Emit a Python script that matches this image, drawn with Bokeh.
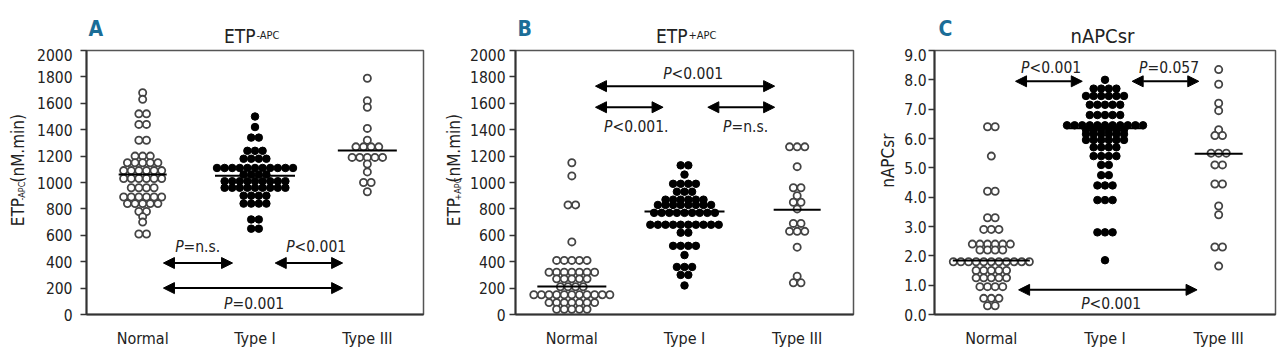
import math
from bokeh.plotting import figure
from bokeh.layouts import row, column
from bokeh.models import Label, Arrow, NormalHead, FixedTicker, Range1d, NumeralTickFormatter
from bokeh.embed import file_html
from bokeh.resources import INLINE

categories = ["Normal", "Type I", "Type III"]

# ---- Panel A: ETP-APC (nM.min) ----
a_normal = [1680, 1630, 1520, 1520, 1440, 1440, 1320, 1320, 1200, 1200, 1200,
            1150, 1150, 1150, 1150, 1150, 1090, 1090, 1090, 1090, 1090, 1090,
            1030, 1030, 1030, 1030, 1030, 1030, 960, 960, 960, 960,
            890, 890, 890, 890, 890, 890, 840, 840, 840, 840, 840,
            780, 780, 740, 700, 610, 610]
a_type1 = [1500, 1420, 1340, 1340, 1240, 1240, 1240, 1180, 1180, 1180, 1180,
           1110, 1110, 1110, 1110, 1110, 1110, 1110, 1110, 1110, 1110, 1110,
           1060, 1060, 1060, 1060,
           1010, 1010, 1010, 1010, 1010, 1010, 1010, 1010, 1010,
           960, 960, 960, 960, 960, 960, 960, 960, 960,
           900, 900, 900, 900, 840, 840, 840, 840, 720, 720, 650, 650]
a_type3 = [1790, 1620, 1570, 1410, 1320, 1270, 1270, 1270, 1270,
           1190, 1190, 1190, 1190, 1190, 1140, 1080, 1000, 1000, 930]
a_median = [1060, 1052, 1242]

# ---- Panel B: ETP+APC (nM.min) ----
b_normal = [1150, 1050, 830, 830, 550, 410, 410, 410, 410, 410,
            320, 320, 320, 320, 320, 320, 320, 270, 270, 270, 270, 270,
            210, 210, 210, 210,
            150, 150, 150, 150, 150, 150, 150, 150, 150, 150, 150,
            90, 90, 90, 90, 90, 90, 90, 40, 40, 40, 40, 40]
b_type1 = [1130, 1130, 1060, 990, 990, 990, 990, 930, 930, 930,
           870, 870, 870, 870, 870, 870, 830, 830, 830, 830, 830, 830, 830, 830,
           770, 770, 770, 770, 770, 770, 770, 770, 770,
           680, 680, 680, 680, 680, 680, 680, 680, 680, 680,
           620, 620, 520, 520, 520, 520, 450, 360, 360, 360, 300, 300, 220]
b_type3 = [1270, 1270, 1270, 1120, 960, 960, 900, 850, 850, 800,
           690, 690, 630, 630, 630, 510, 290, 240, 240]
b_median = [212, 780, 793]

# ---- Panel C: nAPCsr ----
c_normal = [6.4, 6.4, 5.4, 4.2, 4.2, 3.3, 3.3, 2.9, 2.9, 2.9,
            2.4, 2.4, 2.4, 2.4, 2.4, 2.4, 2.2, 2.2, 2.2, 2.2,
            1.8, 1.8, 1.8, 1.8, 1.8, 1.8, 1.8, 1.8, 1.8, 1.8, 1.8,
            1.5, 1.5, 1.5, 1.5, 1.5, 1.25, 1.25, 1.25, 1.25, 1.25,
            0.95, 0.95, 0.95, 0.95, 0.55, 0.55, 0.55, 0.3, 0.3]
c_type1 = [8.0, 7.7, 7.7, 7.7, 7.7, 7.45, 7.45, 7.45, 7.45, 7.45, 7.45,
           7.15, 7.15, 7.15, 7.15, 7.15, 6.8, 6.8, 6.8, 6.8, 6.8,
           6.45, 6.45, 6.45, 6.45, 6.45, 6.45, 6.45, 6.45, 6.45, 6.45, 6.45,
           6.3, 6.3, 6.3, 6.3, 6.3, 6.3, 6.15, 6.15, 6.15, 6.15, 6.15, 6.15,
           5.95, 5.95, 5.95, 5.95, 5.95, 5.95, 5.7, 5.7, 5.7, 5.7,
           5.4, 5.4, 5.4, 5.4, 5.1, 5.1, 4.75, 4.75, 4.4, 4.4, 4.4,
           3.9, 3.9, 3.9, 2.8, 2.8, 2.8, 1.85]
c_type3 = [8.35, 7.85, 7.2, 6.95, 6.3, 6.1, 6.1, 5.5, 5.5, 5.5,
           5.1, 5.1, 4.45, 4.45, 3.7, 3.4, 2.3, 2.3, 1.65]
c_median = [1.84, 6.35, 5.48]

FONT = "DejaVu Sans Condensed"
TXT = "#222222"
LETTER = "#1b6d97"
HEAD_H = 48
MAIN_H = 356 - HEAD_H


def swarm(values, center, step):
    counts, order = {}, []
    for v in values:
        if v not in counts:
            counts[v] = 0
            order.append(v)
        counts[v] += 1
    xs, ys = [], []
    for v in order:
        n = counts[v]
        for i in range(n):
            xs.append(center + (i - (n - 1) / 2) * step)
            ys.append(v)
    return xs, ys


def blank(w, h):
    f = figure(width=w, height=h, x_range=Range1d(0, w), y_range=Range1d(0, h),
               x_axis_type=None, y_axis_type=None, output_backend="svg",
               toolbar_location=None, min_border=0)
    f.outline_line_color = None
    f.background_fill_color = "white"
    f.border_fill_color = "white"
    return f


def lbl(f, text, x, y, size, align="left", style="normal", color=TXT, angle=0.0,
        baseline="alphabetic"):
    f.add_layout(Label(x=x, y=y, text=text, text_align=align, text_baseline=baseline,
                       angle=angle, text_font=FONT, text_font_size=size,
                       text_font_style=style, text_color=color))


def make_main(left, frame_w, right, y_end, ticks, fmt, groups, medians, med_px,
              tick_standoff):
    p = figure(width=left + frame_w + right, height=MAIN_H,
               x_range=Range1d(-0.5, 2.5), y_range=Range1d(0, y_end),
               output_backend="svg", toolbar_location=None,
               min_border_left=left, min_border_right=right,
               min_border_top=2, min_border_bottom=42)
    p.background_fill_color = "white"
    p.border_fill_color = "white"
    p.outline_line_color = "#555555"
    p.outline_line_width = 1.5
    p.xgrid.visible = False
    p.ygrid.visible = False

    p.xaxis.ticker = FixedTicker(ticks=[0, 1, 2])
    p.xaxis.major_label_overrides = {0: categories[0], 1: categories[1], 2: categories[2]}
    p.xaxis.major_tick_line_color = None
    p.xaxis.major_tick_out = 0
    p.xaxis.major_tick_in = 0
    p.xaxis.minor_tick_line_color = None
    p.xaxis.major_label_standoff = 14
    p.xaxis.major_label_text_font_size = "16px"

    p.yaxis.ticker = FixedTicker(ticks=ticks)
    if fmt:
        p.yaxis.formatter = NumeralTickFormatter(format=fmt)
    p.yaxis.major_tick_out = 6
    p.yaxis.major_tick_in = 0
    p.yaxis.minor_tick_line_color = None
    p.yaxis.major_tick_line_color = "#333333"
    p.yaxis.major_tick_line_width = 1.5
    p.yaxis.major_label_standoff = tick_standoff
    p.yaxis.major_label_text_font_size = "15.5px"

    for ax in (p.xaxis, p.yaxis):
        ax.axis_line_color = "#333333"
        ax.axis_line_width = 2
        ax.major_label_text_font = FONT
        ax.major_label_text_color = TXT

    ppu = frame_w / 3.0
    step = 7.6 / ppu
    for i, vals in enumerate(groups):
        xs, ys = swarm(vals, i, step)
        if i == 1:
            p.scatter(xs, ys, size=7.5, fill_color="black", line_color="black",
                      line_width=1)
        else:
            p.scatter(xs, ys, size=7.2, fill_color="white", line_color="#444444",
                      line_width=1.8)
    x0 = [i - med_px[i] / 2 / ppu for i in range(3)]
    x1 = [i + med_px[i] / 2 / ppu for i in range(3)]
    p.segment(x0=x0, y0=medians, x1=x1, y1=medians, line_color="black", line_width=2)
    return p


def add_arrow(p, xs, xe, y):
    p.add_layout(Arrow(start=NormalHead(size=11, fill_color="black", line_color="black"),
                       end=NormalHead(size=11, fill_color="black", line_color="black"),
                       x_start=xs, y_start=y, x_end=xe, y_end=y,
                       line_color="black", line_width=2))


def add_p(p, x, y, rest):
    p.add_layout(Label(x=x, y=y, text="P", text_align="right", text_baseline="middle",
                       text_font=FONT, text_font_style="italic",
                       text_font_size="15.5px", text_color=TXT))
    p.add_layout(Label(x=x, y=y, text=rest, text_align="left", text_baseline="middle",
                       text_font=FONT, text_font_size="15.5px", text_color=TXT))


def etp_label(f, cx, sub):
    lbl(f, "ETP", cx, 42 + 61, "17px", angle=math.pi / 2, baseline="middle")
    lbl(f, sub, cx + 4, 42 + 91, "9px", angle=math.pi / 2, baseline="middle")
    lbl(f, "(nM.min)", cx, 42 + 112, "17px", angle=math.pi / 2, baseline="middle")


# ---------------- Panel A ----------------
WA, LA_LAB = 426, 30
ha = blank(WA, HEAD_H)
lbl(ha, "A", 88, 20, "21px", style="bold", color=LETTER)
lbl(ha, "ETP", 255, 13, "19px", align="right")
lbl(ha, "-APC", 256, 13, "11px", align="left")
ya = blank(LA_LAB, MAIN_H)
etp_label(ya, 17.5, "-APC")
pa = make_main(86 - LA_LAB, 337, 3, 2000, list(range(0, 2001, 200)), None,
               [a_normal, a_type1, a_type3], a_median, [48, 80, 59], 8)
add_arrow(pa, 0.185, 0.80, 390)
add_arrow(pa, 1.18, 1.78, 390)
add_arrow(pa, 0.185, 1.78, 200)
add_p(pa, 0.364, 515, "=n.s.")
add_p(pa, 1.352, 515, "<0.001")
add_p(pa, 0.80, 83, "=0.001")
panel_a = column(ha, row(ya, pa))

# ---------------- Panel B ----------------
WB, LB_LAB = 430, 40
hb = blank(WB, HEAD_H)
lbl(hb, "B", 91, 20, "21px", style="bold", color=LETTER)
lbl(hb, "ETP", 261, 13, "19px", align="right")
lbl(hb, "+APC", 262, 13, "11px", align="left")
yb = blank(LB_LAB, MAIN_H)
etp_label(yb, 27.5, "+APC")
pb = make_main(89 - LB_LAB, 338, 3, 2000, list(range(0, 2001, 200)), None,
               [b_normal, b_type1, b_type3], b_median, [69, 80, 47], 4)
add_arrow(pb, 0.21, 1.80, 1730)
add_arrow(pb, 0.21, 0.81, 1570)
add_arrow(pb, 1.207, 1.80, 1570)
add_p(pb, 0.885, 1823, "<0.001")
add_p(pb, 0.361, 1424, "<0.001.")
add_p(pb, 1.417, 1424, "=n.s.")
panel_b = column(hb, row(yb, pb))

# ---------------- Panel C ----------------
WC, LC_LAB = 424, 44
hc = blank(WC, HEAD_H)
lbl(hc, "C", 82, 20, "21px", style="bold", color=LETTER)
lbl(hc, "nAPCsr", 246, 13, "20px", align="center")
yc = blank(LC_LAB, MAIN_H)
lbl(yc, "nAPCsr", 31.5, 42 + 137.5, "17px", align="center", angle=math.pi / 2,
    baseline="middle")
pc = make_main(78 - LC_LAB, 341, 5, 9.0, [float(v) for v in range(0, 10)], "0.0",
               [c_normal, c_type1, c_type3], c_median, [77, 79, 48], 2)
add_arrow(pc, 0.213, 0.80, 7.95)
add_arrow(pc, 1.239, 1.825, 7.95)
add_arrow(pc, 0.24, 1.81, 0.84)
add_p(pc, 0.336, 8.4, "<0.001")
add_p(pc, 1.374, 8.4, "=0.057")
add_p(pc, 0.864, 0.35, "<0.001")
panel_c = column(hc, row(yc, pc))

layout = row(panel_a, panel_b, panel_c)
open("out.html", "w").write(file_html(layout, INLINE))
